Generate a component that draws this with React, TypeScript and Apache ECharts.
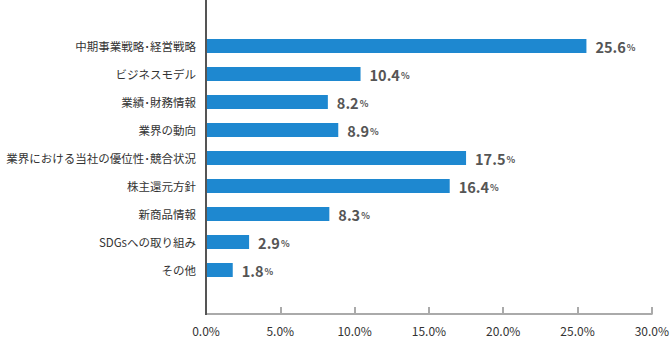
import React, { useEffect, useRef } from "react";
import * as echarts from "echarts";

const categories = [
  "中期事業戦略･経営戦略",
  "ビジネスモデル",
  "業績･財務情報",
  "業界の動向",
  "業界における当社の優位性･競合状況",
  "株主還元方針",
  "新商品情報",
  "SDGsへの取り組み",
  "その他",
];
const values = [25.6, 10.4, 8.2, 8.9, 17.5, 16.4, 8.3, 2.9, 1.8];
const xMin = 0;
const xMax = 30;
const xInterval = 5;

const FONT = '"Noto Sans CJK JP", "Noto Sans", sans-serif';

export default function App() {
  const ref = useRef<HTMLDivElement>(null);
  useEffect(() => {
    if (!ref.current) return;
    const chart = echarts.init(ref.current, undefined, { renderer: "svg" });
    chart.setOption({
      animation: false,
      backgroundColor: "#ffffff",
      grid: { left: 206, right: 20, top: 32, bottom: 55, containLabel: false },
      xAxis: {
        type: "value",
        min: xMin,
        max: xMax,
        interval: xInterval,
        position: "bottom",
        offset: 30,
        axisLine: { show: true, lineStyle: { color: "#aaaaaa", width: 2 } },
        axisTick: { show: true, inside: true, length: 7, lineStyle: { color: "#aaaaaa", width: 2 } },
        splitLine: { show: false },
        axisLabel: {
          color: "#333333",
          fontSize: 12,
          fontFamily: FONT,
          margin: 10,
          formatter: (v: number) => v.toFixed(1) + "%",
        },
      },
      yAxis: {
        type: "category",
        data: categories,
        inverse: true,
        axisLine: { show: false },
        axisTick: { show: false },
        axisLabel: { color: "#333333", fontSize: 11.5, fontFamily: FONT, margin: 10 },
      },
      graphic: [
        {
          type: "line",
          shape: { x1: 206, y1: 0, x2: 206, y2: 315 },
          style: { stroke: "#555555", lineWidth: 2 },
          z: 10,
        },
      ],
      series: [
        {
          type: "bar",
          data: values,
          barWidth: 14,
          itemStyle: { color: "#1e88d0" },
          label: {
            show: true,
            position: "right",
            distance: 9,
            formatter: (p: any) => "{n|" + p.value.toFixed(1) + "}{p|%}",
            rich: {
              n: { fontSize: 14.5, fontWeight: "bold", color: "#555555", fontFamily: FONT },
              p: { fontSize: 9, fontWeight: "bold", color: "#555555", fontFamily: FONT, padding: [3, 0, 0, 1] },
            },
          },
        },
      ],
    });
    return () => chart.dispose();
  }, []);
  return (
    <div
      ref={ref}
      style={{ position: "fixed", left: 0, top: 0, width: 672, height: 339 }}
    />
  );
}
